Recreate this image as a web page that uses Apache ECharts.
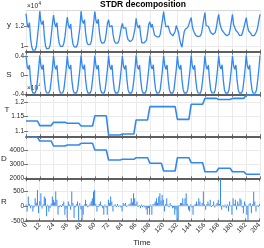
<!DOCTYPE html>
<html><head><meta charset="utf-8">
<script src="https://cdn.jsdelivr.net/npm/echarts@6/dist/echarts.min.js"></script>
<style>html,body{margin:0;padding:0;background:#fff}#c{width:264px;height:248px}</style>
</head><body><div id="c"></div>
<script>
// ---------------- data ----------------
const yVals = [
13300,12250,11900,12400,10800,9950,9600,9560,9620,9950,10950,12050,
13550,12450,12200,12600,11000,10050,9750,9700,9780,10100,11100,12250,
13160,12300,11950,12400,11050,10250,10000,9960,9990,10300,11000,12050,
12950,12100,11800,12250,10950,10200,9950,9900,9920,10250,11050,11900,
13550,12600,12300,12700,11300,10450,10170,10130,10200,10500,11400,12400,
13500,12600,12300,12750,11400,10600,10330,10300,10350,10600,11350,12300,
12700,11950,11800,12100,11100,10550,10330,10300,10320,10560,11150,11850,
12320,11800,11650,11900,11100,10650,10500,10470,10480,10700,11200,11750,
12830,12100,11850,12150,11100,10350,10300,10350,10400,10600,11300,12200,
12480,11900,12230,11700,11150,11050,10950,10900,10950,11200,11900,12700,
13500,12600,11950,12050,12070,11600,11300,11100,11050,10980,11500,12100,
12230,11400,10700,10200,9900,10800,11500,11750,11800,11900,12200,12600,
12900,12000,11570,11700,11100,11000,10980,11000,11050,11300,12000,12800,
13400,12100,11900,12000,11700,11400,11230,11200,11300,11400,11900,12700,
13230,12300,11900,11600,11570,11300,11100,11070,11080,11200,11700,12500,
13230,12200,12070,11600,11570,11350,11100,11070,11100,11500,11900,12400,
12900,12100,11570,11700,11300,11070,11100,11070,11100,11500,11900,12600,13230
];
const sVals = [
4200,2000,1300,2200,-1000,-3000,-3700,-3800,-3700,-3000,-1000,1300,
4250,2050,1250,2250,-950,-3050,-3700,-3800,-3650,-3000,-1050,1350,
4200,1950,1300,2150,-1000,-3000,-3750,-3800,-3700,-2950,-1000,1300,
4150,2000,1350,2200,-1050,-3000,-3700,-3750,-3700,-3000,-950,1300,
4250,2000,1300,2250,-1000,-2950,-3700,-3800,-3700,-3050,-1000,1250,
4200,2050,1300,2200,-1000,-3000,-3650,-3800,-3750,-3000,-1000,1300,
4200,2000,1250,2200,-950,-3000,-3700,-3800,-3700,-3000,-1050,1300,
4150,2000,1300,2150,-1000,-3050,-3700,-3750,-3700,-2950,-1000,1350,
4250,1950,1300,2200,-1000,-3000,-3700,-3800,-3700,-3000,-1000,1300,
4200,2000,1350,2250,-1000,-3000,-3750,-3800,-3650,-3000,-1000,1300,
4200,2050,1300,2200,-1050,-3000,-3700,-3800,-3700,-3000,-950,1300,
4150,2000,1300,2200,-1000,-2950,-3700,-3750,-3700,-3050,-1000,1250,
4250,2000,1250,2150,-1000,-3000,-3700,-3800,-3750,-3000,-1000,1300,
4200,1950,1300,2200,-950,-3000,-3650,-3800,-3700,-3000,-1050,1350,
4200,2000,1350,2250,-1000,-3050,-3700,-3800,-3700,-2950,-1000,1300,
4150,2050,1300,2200,-1000,-3000,-3700,-3750,-3700,-3000,-1000,1300,
4250,2000,1300,2200,-1050,-3000,-3750,-3800,-3700,-3000,-1000,1300,4200
];
// yearly levels (one per 12 time steps)
const tYear = [11355,11200,11310,11277,11186,11530,10880,10915,11390,11840,11840,11410,11920,12120,12080,12120,12230];
const dYear = [4936,4674,4319,4390,4510,4035,3326,3376,3490,3092,2546,3490,3135,2496,2738,2496,2312];
const rVals = [
40,-190,310,60,-80,30,-190,-60,250,100,530,-240,
150,420,-90,50,310,250,-350,40,-200,-70,80,310,
200,120,480,200,-300,-50,30,-40,60,140,-300,-90,
-410,140,40,-130,480,90,-410,-60,50,140,-500,90,
-120,-470,-300,40,200,60,-50,30,80,150,250,480,
530,70,-190,-40,60,140,30,-80,-300,40,-60,-300,
200,90,310,140,-190,30,50,-40,60,-30,20,-60,
-190,90,40,90,-30,20,50,80,250,120,420,250,
60,140,-40,30,-80,40,-50,30,-60,-120,-300,-70,
-300,40,-300,50,80,140,250,90,310,420,180,370,
200,-190,60,250,40,-50,90,30,-80,-60,-300,-120,
-470,-500,30,90,90,250,60,250,420,70,-130,-190,
50,-60,-300,30,60,140,40,250,140,30,90,480,
40,-130,50,140,60,200,-40,30,140,-60,40,90,
200,60,950,-130,30,-50,40,-80,50,-190,140,30,
-300,250,60,200,-130,140,50,250,200,-60,-250,140,
40,-300,-500,60,90,-250,50,470,140,-190,30,-40,60
];
const xTicks = [0,12,24,36,48,60,72,84,96,108,120,132,144,156,168,180,192,204];
const panelNames = ['y','S','T','D','R'];
const yTickVals = [[10000,12000],[-4000,0,4000],[11000,11500,12000],[2000,3000,4000],[-500,0,500]];
const yTickLabels = [['1','1.2'],['-0.4','0','0.4'],['1.1','1.15','1.2'],['2000','3000','4000'],['-500','0','500']];
const yRanges = [[9400,13670],[-4000,4900],[10828,12253],[1993,4986],[-507,900]];

// ---------------- build ----------------
const FONT = 'Liberation Sans, Arial, sans-serif';
const BLUE = '#3388ee';
const time = yVals.map((v,i)=>i);
const yearOf = t => Math.min(Math.floor(t/12), tYear.length-1);
const tVals = time.map(t => tYear[yearOf(t)]);
const dVals = time.map(t => dYear[yearOf(t)]);
const seriesVals = [yVals, sVals, tVals, dVals, rVals];

const left = 26, right = 4, top0 = 10, H = 42.2;
const grids = [], xAxes = [], yAxes = [], series = [];
for (let i = 0; i < 5; i++) {
  grids.push({left: left, right: right, top: top0 + i*H, height: H});
  const last = i === 4;
  ['bottom','top'].forEach(pos => {
    const outerTop = (i === 0 && pos === 'top');
    xAxes.push({
      type:'value', gridIndex:i, position:pos, min:0, max:204, interval:12,
      axisLine:{show:true, onZero:false, lineStyle:{color: outerTop ? '#d9d9d9' : '#555', width: outerTop ? 1 : 1.5}},
      axisTick:{show:!outerTop, inside:true, length:2.5, lineStyle:{color:'#555', width:0.8}},
      axisLabel:{show: last && pos==='bottom', rotate:45, fontSize:6.5, color:'#262626', margin:3, fontFamily:FONT,
                 formatter: v => String(xTicks[xTicks.indexOf(v)])},
      splitLine:{show: pos==='bottom', lineStyle:{color:'#ebebeb', width:1}}
    });
  });
  ['left','right'].forEach(pos => {
    yAxes.push({
      type:'value', gridIndex:i, position:pos, min:yRanges[i][0], max:yRanges[i][1],
      axisLine:{show:false},
      axisTick:{show:true, inside:true, length:2, customValues: yTickVals[i], lineStyle:{color:'#555', width:0.8}},
      axisLabel:{show: pos==='left', customValues: yTickVals[i], fontSize:6.5, color:'#262626', margin:2, fontFamily:FONT,
                 formatter: v => { const k = yTickVals[i].indexOf(v); return k >= 0 ? yTickLabels[i][k] : ''; }},
      splitLine:{show: pos==='left', lineStyle:{color:'#ebebeb', width:1}}
    });
  });
  const data = time.map((t,j) => [t, seriesVals[i][j]]);
  if (i === 4) {
    series.push({type:'bar', xAxisIndex:2*i, yAxisIndex:2*i, data:data, barWidth:1, itemStyle:{color:BLUE}, silent:true});
  } else {
    series.push({type:'line', xAxisIndex:2*i, yAxisIndex:2*i, data:data, showSymbol:false, symbol:'none',
      lineStyle:{color:BLUE, width:(i>=2?1.6:1.3)}, silent:true});
  }
}

const graphics = [
  {type:'text', x:143, y:5, style:{text:'STDR decomposition', font:'bold 8.5px '+FONT, fill:'#000', textAlign:'center', textVerticalAlign:'middle'}},
  {type:'text', x:27, y:6.5, style:{text:'×10', font:'6.5px '+FONT, fill:'#262626', textAlign:'left', textVerticalAlign:'middle'}},
  {type:'text', x:38.5, y:3.5, style:{text:'4', font:'4.5px '+FONT, fill:'#262626', textAlign:'left', textVerticalAlign:'middle'}},
  {type:'text', x:27, y:88.5, style:{text:'×10', font:'6.5px '+FONT, fill:'#262626', textAlign:'left', textVerticalAlign:'middle'}},
  {type:'text', x:38.5, y:85.5, style:{text:'4', font:'4.5px '+FONT, fill:'#262626', textAlign:'left', textVerticalAlign:'middle'}},
  {type:'text', x:142, y:243, style:{text:'Time', font:'8px '+FONT, fill:'#262626', textAlign:'center', textVerticalAlign:'middle'}}
];
const namePos = [[9,25],[9,75],[7,110],[4,159],[4,202]];
panelNames.forEach((n,i) => graphics.push({type:'text', x:namePos[i][0], y:namePos[i][1],
  style:{text:n, font:'8px '+FONT, fill:'#262626', textAlign:'center', textVerticalAlign:'middle'}}));

const chart = echarts.init(document.getElementById('c'), null, {renderer:'canvas', width:264, height:248});
chart.setOption({animation:false, backgroundColor:'#fff', grid:grids, xAxis:xAxes, yAxis:yAxes, series:series, graphic:graphics});
</script></body></html>
